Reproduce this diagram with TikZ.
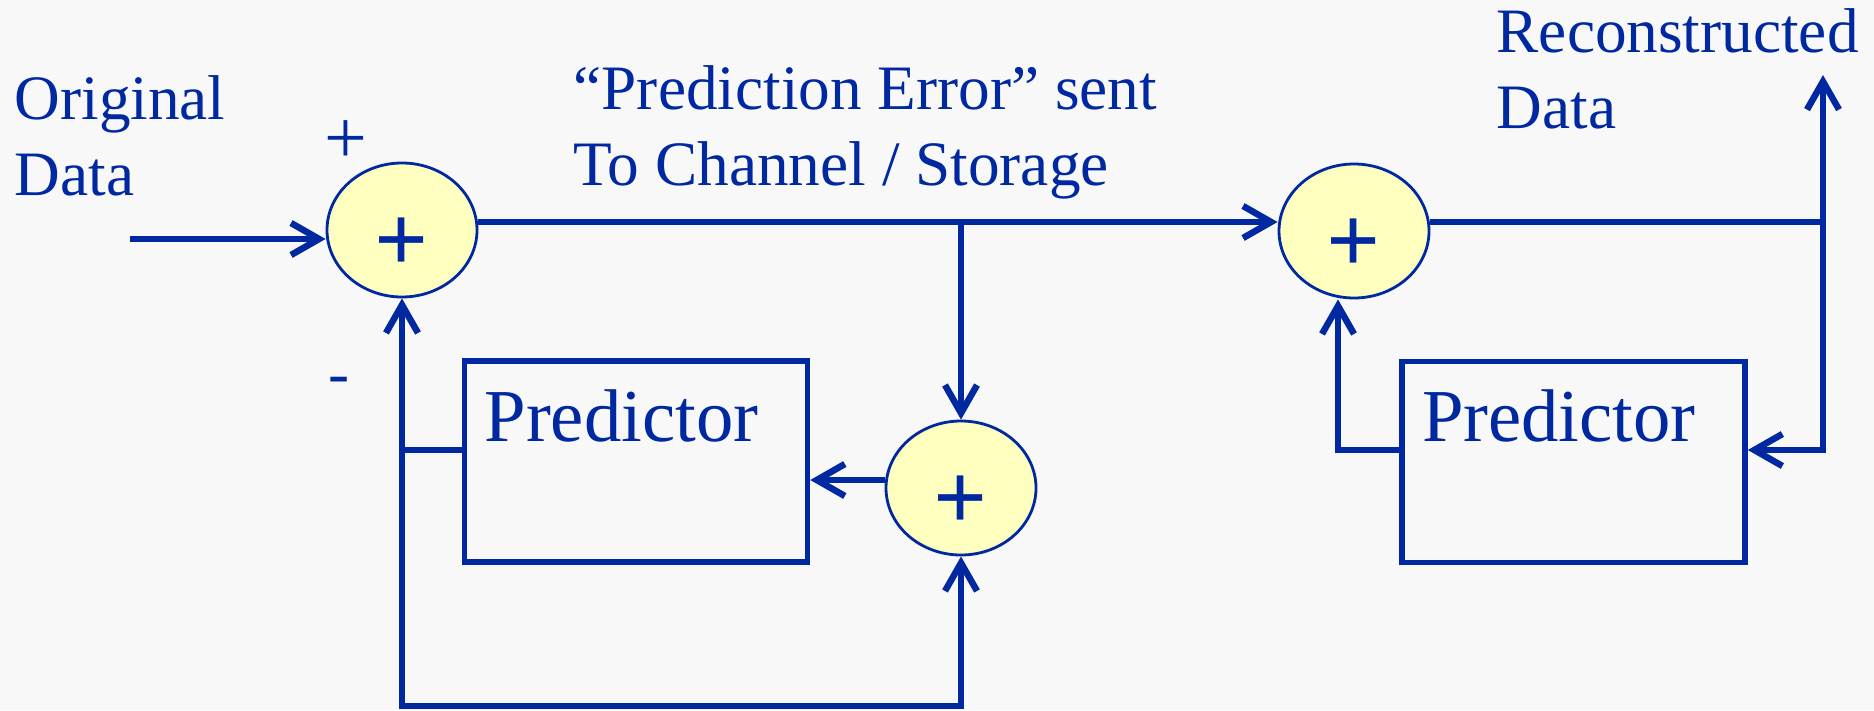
\documentclass[tikz,border=0pt]{standalone}
\usepackage{fontspec}
\setmainfont{Liberation Serif}
\usetikzlibrary{arrows.meta,shapes.geometric,positioning}
\definecolor{dpblue}{RGB}{0,40,160}
\definecolor{dpyellow}{RGB}{255,255,192}
\definecolor{dpback}{RGB}{248,248,248}
\tikzset{>={Straight Barb[length=2.8mm,width=3.2mm]}}
\tikzstyle{adder} = [ellipse, minimum width=1.5cm, minimum height=1.34cm, inner sep=0pt, draw=dpblue, line width=0.8pt, fill=dpyellow]
\tikzstyle{sign} = [text=dpblue, inner sep=0pt, font=\fontsize{27}{27}\selectfont\bfseries]
\tikzstyle{lbl} = [text=dpblue, inner sep=0pt, align=left, font=\fontsize{18}{21.6}\selectfont]
\tikzstyle{predictor} = [rectangle, draw=dpblue, line width=1.6pt, text=dpblue, align=left, inner xsep=0.2cm, inner ysep=0pt, text width=3.03cm, text height=0.80cm, text depth=1.21cm, font=\fontsize{21.25}{25}\selectfont]
\tikzstyle{wire} = [dpblue, line width=1.85pt]
\tikzstyle{arrow} = [wire, ->]

\begin{document}
\begin{tikzpicture}

\fill [dpback] (0,0) rectangle (18.74,-7.10);
\useasboundingbox (0,0) rectangle (18.74,-7.10);

\node (orig) [lbl, anchor=base west] at (0.14,-1.95) {Original\\Data};

\node (err) [lbl, anchor=base west] at (5.73,-1.85) {“Prediction Error” sent\\To Channel / Storage};

\node (recon) [lbl, anchor=base west] at (14.96,-1.28) {Reconstructed\\Data};

\node (add1) [adder] at (4.02,-2.30) {};
\node (p1) [sign] at ([yshift=-0.15cm]add1) {+};

\node (add2) [adder] at (13.54,-2.31) {};
\node (p2) [sign] at ([yshift=-0.15cm]add2) {+};

\node (add3) [adder] at (9.61,-4.88) {};
\node (p3) [sign] at ([yshift=-0.15cm]add3) {+};

\node (plus) [lbl, font=\fontsize{21.6}{21.6}\selectfont] at (3.46,-1.42) {+};
\node (minus) [lbl] at (3.39,-3.86) {-};

\node (pred1) [predictor] at (6.36,-4.615) {Predictor};
\node (pred2) [predictor] at (15.735,-4.62) {Predictor};

\coordinate (src) at (1.30,-2.39);
\coordinate (tap) at (9.61,-2.22);
\coordinate (j1) at (4.02,-4.50);
\coordinate (bot) at (4.02,-7.06);
\coordinate (out) at (18.23,-2.22);
\coordinate (top) at (18.23,-0.75);
\coordinate (j3) at (18.23,-4.50);
\coordinate (j4) at (13.38,-4.50);

\draw [arrow] (src) -- (src -| add1.west);
\draw [arrow] (add1.east |- tap) -- (add2.west |- tap);
\draw [arrow] (tap) -- (add3.north);
\draw [arrow] ([yshift=0.08cm]add3.west) -- ([yshift=0.08cm]add3.west -| pred1.east);
\draw [arrow] (pred1.west |- j1) -- (j1) -- (add1.south);
\draw [arrow] (j1) -- (bot) -| (add3.south);
\draw [arrow] (add2.east |- out) -- (out) -- (top);
\draw [arrow] (out) -- (j3) -- (pred2.east |- j3);
\draw [arrow] (pred2.west |- j4) -- (j4) -- (j4 |- add2.south);

\end{tikzpicture}
\end{document}
